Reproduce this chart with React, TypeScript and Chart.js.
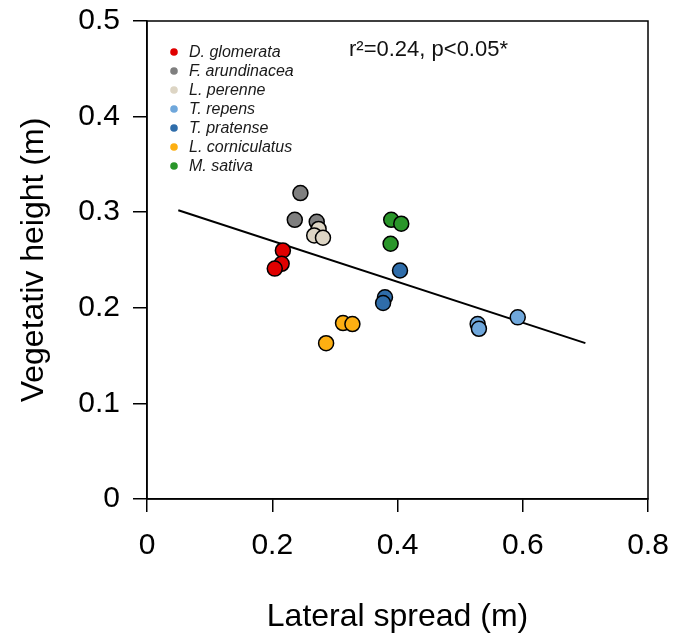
import React, { useEffect, useRef } from "react";
import { Chart, registerables } from "chart.js";

Chart.register(...registerables);

const speciesLabels = [
  "D. glomerata",
  "F. arundinacea",
  "L. perenne",
  "T. repens",
  "T. pratense",
  "L. corniculatus",
  "M. sativa",
];
const speciesColors = ["#E00000", "#7F7F7F", "#DDD5C4", "#6FA7DB", "#2F6DAA", "#FDAF12", "#2A962A"];

const dGlomerataX = [0.217, 0.215, 0.204];
const dGlomerataY = [0.260, 0.246, 0.241];
const fArundinaceaX = [0.245, 0.236, 0.271];
const fArundinaceaY = [0.320, 0.292, 0.290];
const lPerenneX = [0.274, 0.267, 0.281];
const lPerenneY = [0.2825, 0.2757, 0.2733];
const tRepensX = [0.528, 0.530, 0.592];
const tRepensY = [0.183, 0.178, 0.190];
const tPratenseX = [0.404, 0.380, 0.377];
const tPratenseY = [0.239, 0.211, 0.205];
const lCorniculatusX = [0.313, 0.328, 0.286];
const lCorniculatusY = [0.184, 0.183, 0.163];
const mSativaX = [0.390, 0.406, 0.389];
const mSativaY = [0.292, 0.288, 0.267];

const regressionX = [0.05, 0.70];
const regressionY = [0.302, 0.163];

const xTicks = [0, 0.2, 0.4, 0.6, 0.8];
const yTicks = [0, 0.1, 0.2, 0.3, 0.4, 0.5];

const xTitle = "Lateral spread (m)";
const yTitle = "Vegetativ height (m)";
const statsText = "r\u00B2=0.24, p<0.05*";

const FONT = "'Liberation Sans', Arial, sans-serif";

const speciesX = [dGlomerataX, fArundinaceaX, lPerenneX, tRepensX, tPratenseX, lCorniculatusX, mSativaX];
const speciesY = [dGlomerataY, fArundinaceaY, lPerenneY, tRepensY, tPratenseY, lCorniculatusY, mSativaY];

const toPoints = (xs: number[], ys: number[]) => xs.map((x, i) => ({ x, y: ys[i] }));

const boxPlugin = {
  id: "box",
  afterDraw(chart: any) {
    const { ctx, chartArea } = chart;
    ctx.save();
    ctx.strokeStyle = "#000";
    ctx.lineWidth = 1.5;
    ctx.strokeRect(chartArea.left, chartArea.top, chartArea.right - chartArea.left, chartArea.bottom - chartArea.top);
    ctx.restore();
  },
};

const legendPlugin = {
  id: "insideLegend",
  afterDraw(chart: any) {
    const { ctx, chartArea } = chart;
    ctx.save();
    const x0 = chartArea.left + 27;
    const y0 = chartArea.top + 31;
    const step = 19;
    ctx.font = `italic 16px ${FONT}`;
    ctx.textBaseline = "middle";
    ctx.textAlign = "left";
    speciesLabels.forEach((label, i) => {
      const y = y0 + i * step;
      ctx.beginPath();
      ctx.fillStyle = speciesColors[i];
      ctx.arc(x0, y, 3.8, 0, Math.PI * 2);
      ctx.fill();
      ctx.fillStyle = "#1a1a1a";
      ctx.fillText(label, x0 + 15, y + 1);
    });
    ctx.font = `22px ${FONT}`;
    ctx.fillStyle = "#111";
    ctx.fillText(statsText, chartArea.left + 202, chartArea.top + 29);
    ctx.restore();
  },
};

export default function App() {
  const ref = useRef<HTMLCanvasElement>(null);

  useEffect(() => {
    if (!ref.current) return;
    const datasets: any[] = speciesLabels.map((label, i) => ({
      type: "scatter",
      label,
      data: toPoints(speciesX[i], speciesY[i]),
      backgroundColor: speciesColors[i],
      borderColor: "#000",
      borderWidth: 1.5,
      pointRadius: 7.5,
      order: 20 - i,
    }));
    datasets.push({
      type: "line",
      label: "fit",
      data: toPoints(regressionX, regressionY),
      borderColor: "#000",
      borderWidth: 2,
      pointRadius: 0,
      fill: false,
      order: 100,
    });

    const chart = new Chart(ref.current, {
      type: "scatter",
      data: { datasets },
      options: {
        animation: false,
        responsive: false,
        devicePixelRatio: 1,
        layout: { padding: { top: 21, right: 26, left: 0, bottom: 0 } },
        plugins: { legend: { display: false }, tooltip: { enabled: false } },
        scales: {
          x: {
            type: "linear",
            min: 0,
            max: 0.8,
            afterBuildTicks: (s: any) => {
              s.ticks = xTicks.map((v) => ({ value: v }));
            },
            afterFit: (s: any) => {
              s.height = 140;
              s.paddingLeft = 0;
              s.paddingRight = 0;
            },
            ticks: {
              color: "#000",
              font: { family: FONT, size: 30 },
              padding: 16,
              maxRotation: 0,
              callback: (v: any) => String(v),
            },
            grid: { drawOnChartArea: false, drawTicks: true, tickLength: 13, color: "#000", lineWidth: 1.5 },
            border: { display: true, color: "#000", width: 1.5 },
            title: {
              display: true,
              text: xTitle,
              color: "#000",
              font: { family: FONT, size: 32 },
              padding: { top: 0, bottom: 3 },
            },
          },
          y: {
            type: "linear",
            min: 0,
            max: 0.5,
            afterBuildTicks: (s: any) => {
              s.ticks = yTicks.map((v) => ({ value: v }));
            },
            afterFit: (s: any) => {
              s.width = 147;
              s.paddingTop = 0;
              s.paddingBottom = 0;
            },
            ticks: {
              color: "#000",
              font: { family: FONT, size: 30 },
              padding: 13,
              callback: (v: any) => String(v),
            },
            grid: { drawOnChartArea: false, drawTicks: true, tickLength: 14, color: "#000", lineWidth: 1.5 },
            border: { display: true, color: "#000", width: 1.5 },
            title: {
              display: true,
              text: yTitle,
              color: "#000",
              font: { family: FONT, size: 32 },
              padding: { top: 15, bottom: 0 },
            },
          },
        },
      },
      plugins: [boxPlugin, legendPlugin],
    } as any);
    return () => chart.destroy();
  }, []);

  return (
    <div style={{ position: "absolute", left: 0, top: 0, width: 674, height: 639, background: "#fff" }}>
      <canvas ref={ref} width={674} height={639} style={{ display: "block" }} />
    </div>
  );
}
